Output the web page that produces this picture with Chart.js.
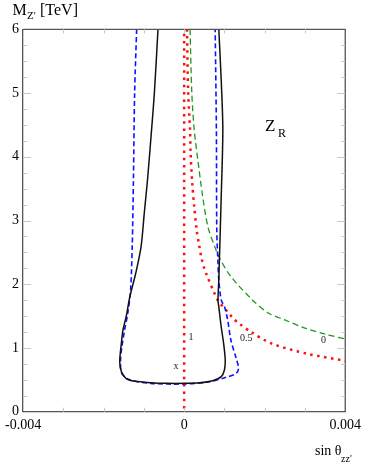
<!DOCTYPE html>
<html><head><meta charset="utf-8">
<script src="https://cdn.jsdelivr.net/npm/chart.js@4/dist/chart.umd.min.js"></script>
<style>html,body{margin:0;padding:0;background:#fff;overflow:hidden}</style>
</head><body>
<canvas id="c" width="366" height="463"></canvas>
<script>
// ---- data (sin theta, M_Z' in TeV) ----
const blackX = [-0.00065,-0.00074,-0.00083,-0.00091,-0.00099,-0.00107,-0.0012,-0.00135,-0.00144,-0.00152,-0.00156,-0.0016,-0.00156,-0.00144,-0.00124,-0.00083,-0.00042,0,0.00039,0.00071,0.00092,0.001,0.00102,0.00098,0.00092,0.00086,0.00084,0.00086,0.00092,0.00096,0.00092,0.00086];
const blackM = [6.0,5.0,4.26,3.64,3.12,2.59,2.18,1.8,1.49,1.28,1.07,0.785,0.63,0.52,0.48,0.455,0.445,0.445,0.455,0.487,0.55,0.655,0.81,1.07,1.33,1.65,1.75,2.07,3.375,4.42,5.2,6.0];

const blueX = [-0.00118,-0.00123,-0.00126,-0.00129,-0.00133,-0.0014,-0.00148,-0.00155,-0.00158,-0.00155,-0.00135,-0.00083,0,0.00063,0.00104,0.00129,0.00135,0.00129,0.00116,0.00108,0.001,0.00092,0.00086,0.00084,0.00081,0.0008,0.00077];
const blueM = [6.0,5.0,3.64,2.59,1.91,1.545,1.28,1.0,0.81,0.6,0.5,0.445,0.435,0.47,0.54,0.6,0.68,0.84,1.125,1.44,1.65,1.75,2.07,2.33,2.85,4.42,6.0];

const greenX = [0.000146,0.00019,0.00025,0.00035,0.00046,0.00059,0.00076,0.00088,0.00116,0.0017,0.0021,0.0025,0.003,0.00348,0.004];
const greenM = [6.0,5.0,4.42,3.9,3.375,2.9,2.59,2.41,2.12,1.75,1.545,1.44,1.31,1.22,1.14];

const redHalfX = [0.00007,0.0001,0.000146,0.00016,0.0002,0.00025,0.00031,0.00037,0.00043,0.00049,0.00055,0.00084,0.00096,0.0011,0.00122,0.00137,0.00166,0.00217,0.00305,0.004];
const redHalfM = [6.0,5.0,4.42,4.06,3.59,3.22,2.85,2.62,2.41,2.27,2.16,1.74,1.65,1.55,1.46,1.38,1.25,1.07,0.91,0.80];

const redOneX = [0,0];
const redOneM = [0.05,6.0];

const xTickValues = [-0.004,0,0.004];
const xTickLabels = ['-0.004','0','0.004'];
const yTickValues = [0,1,2,3,4,5,6];
const xMinorTicks = [-0.003,-0.002,-0.001,0,0.001,0.002,0.003];
const yMinorTicks = [0.25,0.5,0.75,1.25,1.5,1.75,2.25,2.5,2.75,3.25,3.5,3.75,4.25,4.5,4.75,5.25,5.5,5.75];
const yMajorTicks = [1,2,3,4,5];

const curveLabels = [
  {text:'1', x:0.00011, y:1.17, align:'left'},
  {text:'0.5', x:0.00154, y:1.15, align:'center'},
  {text:'0', x:0.00346, y:1.125, align:'center'},
  {text:'x', x:-0.0002, y:0.71, align:'center'}
];

const zip = (xs, ys) => xs.map((v,i)=>({x:v, y:ys[i]}));
const SERIF = '"Liberation Serif","DejaVu Serif",serif';

const decor = {
  id:'decor',
  afterDraw(chart){
    const {ctx, chartArea:a, scales:{x, y}} = chart;
    ctx.save();
    // box top/right
    ctx.strokeStyle = '#555'; ctx.lineWidth = 1.3;
    ctx.beginPath();
    ctx.moveTo(a.left, a.top); ctx.lineTo(a.right, a.top); ctx.lineTo(a.right, a.bottom);
    ctx.stroke();
    // inward ticks
    ctx.strokeStyle = '#c8c8c8'; ctx.lineWidth = 1;
    ctx.beginPath();
    xMinorTicks.forEach(v=>{
      const px = Math.round(x.getPixelForValue(v))+0.5;
      ctx.moveTo(px, a.bottom); ctx.lineTo(px, a.bottom-4);
      ctx.moveTo(px, a.top); ctx.lineTo(px, a.top+4);
    });
    yMinorTicks.forEach(v=>{
      const py = Math.round(y.getPixelForValue(v))+0.5;
      ctx.moveTo(a.left, py); ctx.lineTo(a.left+4, py);
      ctx.moveTo(a.right, py); ctx.lineTo(a.right-4, py);
    });
    yMajorTicks.forEach(v=>{
      const py = Math.round(y.getPixelForValue(v))+0.5;
      ctx.moveTo(a.left, py); ctx.lineTo(a.left+8, py);
      ctx.moveTo(a.right, py); ctx.lineTo(a.right-8, py);
    });
    ctx.stroke();
    // curve labels
    ctx.fillStyle = '#222';
    ctx.font = '10px ' + SERIF;
    ctx.textBaseline = 'middle';
    curveLabels.forEach(l=>{
      ctx.textAlign = l.align;
      ctx.fillText(l.text, x.getPixelForValue(l.x), y.getPixelForValue(l.y));
    });
    // Z_R
    ctx.fillStyle = '#000';
    ctx.textAlign = 'left'; ctx.textBaseline = 'alphabetic';
    const zx = x.getPixelForValue(0.00201), zy = y.getPixelForValue(4.4);
    ctx.font = '17px ' + SERIF; ctx.fillText('Z', zx, zy);
    ctx.font = '12px ' + SERIF; ctx.fillText('R', zx+13, zy+6);
    // axis titles
    ctx.font = '16px ' + SERIF; ctx.fillText('M', 12.5, 14.5);
    ctx.font = '11px ' + SERIF; ctx.fillText("Z'", 27, 19);
    ctx.font = '16px ' + SERIF; ctx.fillText('[TeV]', 40, 14.5);
    ctx.font = '14px ' + SERIF; ctx.fillText('sin θ', 315, 455);
    ctx.font = '10px ' + SERIF; ctx.fillText("zz'", 341, 462);
    ctx.restore();
  }
};

new Chart(document.getElementById('c'), {
  type:'scatter',
  data:{datasets:[
    {label:'black', data:zip(blackX, blackM), showLine:true, borderColor:'#111', borderWidth:1.5, pointRadius:0, tension:0.3, fill:false},
    {label:'blue', data:zip(blueX, blueM), showLine:true, borderColor:'#1010ff', borderWidth:1.6, borderDash:[5,3], pointRadius:0, tension:0.3, fill:false},
    {label:'green', data:zip(greenX, greenM), showLine:true, borderColor:'#1a9a1a', borderWidth:1.3, borderDash:[6,3.5], pointRadius:0, tension:0.3, fill:false},
    {label:'red05', data:zip(redHalfX, redHalfM), showLine:true, borderColor:'#ff1010', borderWidth:2.5, borderDash:[2.5,4.5], pointRadius:0, tension:0.3, fill:false},
    {label:'red1', data:zip(redOneX, redOneM), showLine:true, borderColor:'#ff1010', borderWidth:2.5, borderDash:[2.5,4.8], pointRadius:0, tension:0, fill:false}
  ]},
  options:{
    responsive:false, animation:false,
    layout:{autoPadding:false, padding:{top:29.3, right:18, left:0, bottom:0}},
    plugins:{legend:{display:false}, tooltip:{enabled:false}},
    scales:{
      x:{type:'linear', min:-0.004, max:0.004,
        afterBuildTicks:s=>{s.ticks = xTickValues.map(v=>({value:v}));},
        afterFit:s=>{s.height = 51.3;},
        ticks:{callback:(v,i)=>xTickLabels[i], color:'#000', font:{family:SERIF, size:14}, padding:5, maxRotation:0, autoSkip:false},
        grid:{display:false, drawTicks:false},
        border:{display:true, color:'#555', width:1.3}},
      y:{type:'linear', min:0, max:6,
        afterBuildTicks:s=>{s.ticks = yTickValues.map(v=>({value:v}));},
        afterFit:s=>{s.width = 20.5;},
        ticks:{callback:v=>String(v), color:'#000', font:{family:SERIF, size:14}, padding:4, autoSkip:false},
        grid:{display:false, drawTicks:false},
        border:{display:true, color:'#555', width:1.3}}
    }
  },
  plugins:[decor]
});
</script>
</body></html>
